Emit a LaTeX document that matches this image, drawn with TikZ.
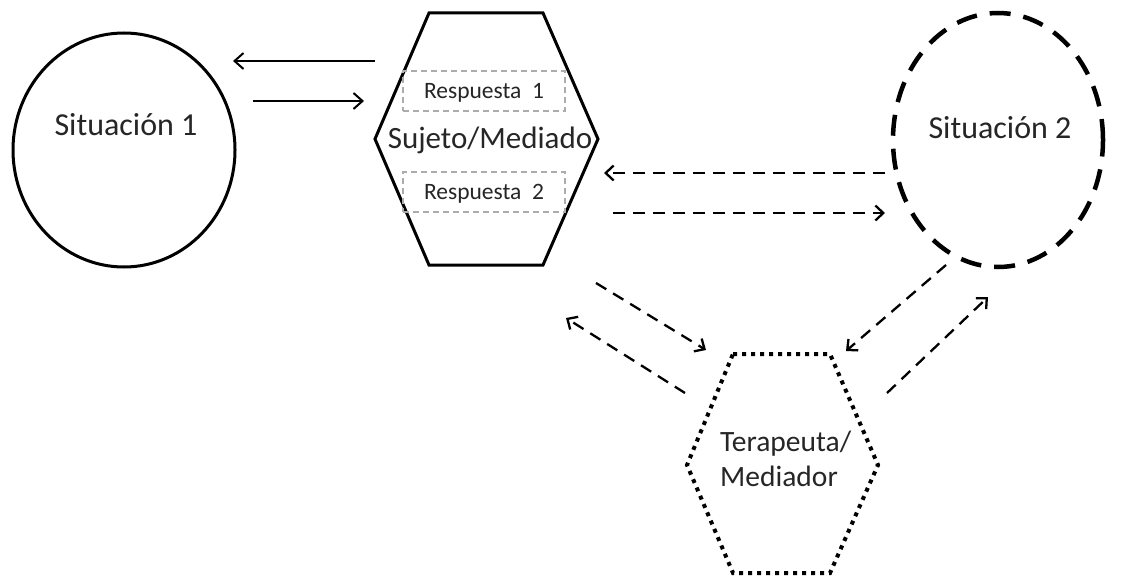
\documentclass[tikz,border=0pt]{standalone}
\usepackage{fontspec}
\setmainfont{Carlito}
\usetikzlibrary{arrows.meta,shapes.geometric}
\definecolor{txt}{HTML}{262626}
\begin{document}
\begin{tikzpicture}[x=1pt,y=-1pt,
  bigtxt/.style={font=\fontsize{32}{35}\selectfont,text=txt,inner sep=0pt,anchor=base},
  smalltxt/.style={font=\fontsize{23.5}{26}\selectfont,text=txt,inner sep=0pt,anchor=base},
  solidarrow/.style={line width=2pt,-{Straight Barb[length=9pt,width=16pt,line width=2pt]}},
  dasharrow/.style={line width=2.3pt,dash pattern=on 12pt off 8pt,-{Straight Barb[length=8pt,width=15pt,line width=2.3pt]}},
  respbox/.style={draw=gray!65,line width=1.6pt,dash pattern=on 6pt off 4pt}
]
\useasboundingbox (0,0) rectangle (1124,578);
\fill[white] (0,0) rectangle (1124,578);

% Situacion 1
\node[ellipse,draw,line width=3pt,minimum width=222pt,minimum height=234pt,inner sep=0pt] (s1) at (124,150) {};
\node[bigtxt] (s1t) at (126,135) {Situación 1};

% Situacion 2
\node[ellipse,draw,line width=4.5pt,dash pattern=on 21pt off 13pt,minimum width=210pt,minimum height=254pt,inner sep=0pt] (s2) at (998,140) {};
\node[bigtxt] (s2t) at (1000,138) {Situación 2};

% Sujeto hexagon
\draw[line width=3pt,line join=miter] (429,13) -- (543,13) -- (598,139) -- (543,265) -- (429,265) -- (375,139) -- cycle;
\node[bigtxt,font=\fontsize{31}{35}\selectfont] (suj) at (490,148) {Sujeto/Mediado};
\node[respbox,minimum width=162pt,minimum height=40pt,inner sep=0pt] (r1) at (484,91) {};
\node[respbox,minimum width=162pt,minimum height=40pt,inner sep=0pt] (r2) at (484,192) {};
\node[smalltxt] (r1t) at (484,98) {Respuesta\ \ 1};
\node[smalltxt] (r2t) at (484,199) {Respuesta\ \ 2};

% Terapeuta hexagon
\draw[line width=4pt,dash pattern=on 4pt off 5pt] (733,354) -- (830,354) -- (878,465) -- (830,573) -- (733,573) -- (687,465) -- cycle;
\node[font=\fontsize{29.5}{35}\selectfont,text=txt,inner sep=0pt,anchor=north west,align=left] (ter) at (720,431) {Terapeuta/\\Mediador};

% arrow end points
\coordinate (a1s) at (375,61);  \coordinate (a1e) at (233,61);
\coordinate (a2s) at (253,101); \coordinate (a2e) at (364,101);
\coordinate (a3s) at (885,173); \coordinate (a3e) at (604,173);
\coordinate (a4s) at (613,213); \coordinate (a4e) at (885,213);
\coordinate (a5s) at (596,283); \coordinate (a5e) at (706,350);
\coordinate (a6s) at (685,393); \coordinate (a6e) at (566,318);
\coordinate (a7s) at (946,265); \coordinate (a7e) at (846,351);
\coordinate (a8s) at (887,393); \coordinate (a8e) at (988,297);

\draw[solidarrow] (a1s) -- (a1e);
\draw[solidarrow] (a2s) -- (a2e);
\draw[dasharrow] (a3s) -- (a3e);
\draw[dasharrow] (a4s) -- (a4e);
\draw[dasharrow] (a5s) -- (a5e);
\draw[dasharrow] (a6s) -- (a6e);
\draw[dasharrow] (a7s) -- (a7e);
\draw[dasharrow] (a8s) -- (a8e);
\end{tikzpicture}
\end{document}
